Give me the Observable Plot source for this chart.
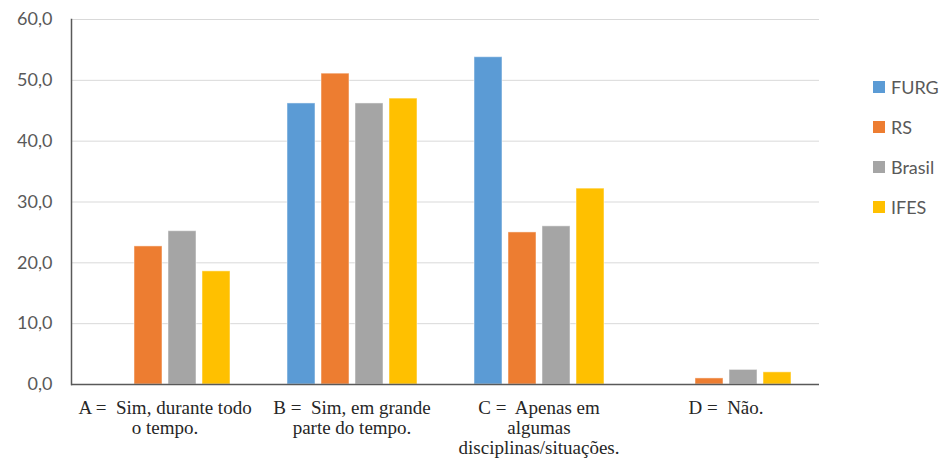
<!DOCTYPE html>
<html>
<head>
<meta charset="utf-8">
<script src="https://cdn.jsdelivr.net/npm/d3@7"></script>
<script src="https://cdn.jsdelivr.net/npm/@observablehq/plot@0.6"></script>
<style>
  html, body { margin: 0; padding: 0; background: #fff; }
  #wrap { position: relative; width: 941px; height: 465px; }
  #wrap svg text { white-space: pre; }
  #legend { position: absolute; left: 873px; top: 76px; font-family: Lato, sans-serif; font-size: 18px; color: #595959; }
  #legend .item { display: flex; align-items: center; height: 22px; margin-bottom: 18px; }
  #legend .sw { width: 12px; height: 12px; margin-right: 6px; }
</style>
</head>
<body>
<div id="wrap"><div id="legend"></div></div>
<script>
const categories = [
  "A =  Sim, durante todo\no tempo.",
  "B =  Sim, em grande\nparte do tempo.",
  "C =  Apenas em\nalgumas\ndisciplinas/situações.",
  "D =  Não."
];
const seriesNames = ["FURG", "RS", "Brasil", "IFES"];
const seriesColors = ["#5b9bd5", "#ed7d31", "#a5a5a5", "#ffc000"];
const FURG = [null, 46.2, 53.8, null];
const RS = [22.7, 51.1, 25.0, 1.0];
const Brasil = [25.2, 46.2, 26.0, 2.4];
const IFES = [18.6, 47.0, 32.2, 2.0];
const yTicks = [0, 10, 20, 30, 40, 50, 60];

const valuesBySeries = { FURG, RS, Brasil, IFES };
const data = [];
categories.forEach((c, i) => {
  seriesNames.forEach(s => {
    const v = valuesBySeries[s][i];
    if (v != null) data.push({ category: c, series: s, value: v });
  });
});

const chart = Plot.plot({
  width: 941,
  height: 465,
  marginLeft: 69,
  marginRight: 121,
  marginTop: 19,
  marginBottom: 81,
  fx: { domain: categories, paddingInner: 0, paddingOuter: 0, label: null, axis: null },
  x: { domain: seriesNames, paddingInner: 0.18, paddingOuter: 0.83, axis: null },
  y: { domain: [0, 60], axis: null },
  color: { domain: seriesNames, range: seriesColors },
  marks: [
    Plot.ruleY(yTicks.slice(1), { stroke: "#d9d9d9", strokeWidth: 1 }),
    Plot.barY(data, { fx: "category", x: "series", y: "value", fill: "series", stroke: "#fff", strokeOpacity: 0.5, strokeWidth: 1, inset: 0 }),
    Plot.ruleY([0], { stroke: "#595959", strokeWidth: 1.5 }),
    Plot.axisY({ ticks: yTicks, tickSize: 0, tickPadding: 19, tickFormat: d => d.toFixed(1).replace(".", ","), label: null, fontSize: 18, fontFamily: "Lato, sans-serif", fill: "#595959" }),
    Plot.axisFx({ anchor: "bottom", tickSize: 0, tickPadding: 15, label: null, fontSize: 19, fontFamily: "Liberation Serif, serif", fill: "#262626", lineHeight: 20 / 19, lineAnchor: "top" }),
    Plot.frame({ anchor: "left", facetAnchor: "left", stroke: "#595959", strokeWidth: 1.5 })
  ]
});
document.getElementById("wrap").prepend(chart);

const legend = document.getElementById("legend");
seriesNames.forEach((s, i) => {
  const item = document.createElement("div");
  item.className = "item";
  item.innerHTML = `<div class="sw" style="background:${seriesColors[i]}"></div><span>${s}</span>`;
  legend.appendChild(item);
});
</script>
</body>
</html>
